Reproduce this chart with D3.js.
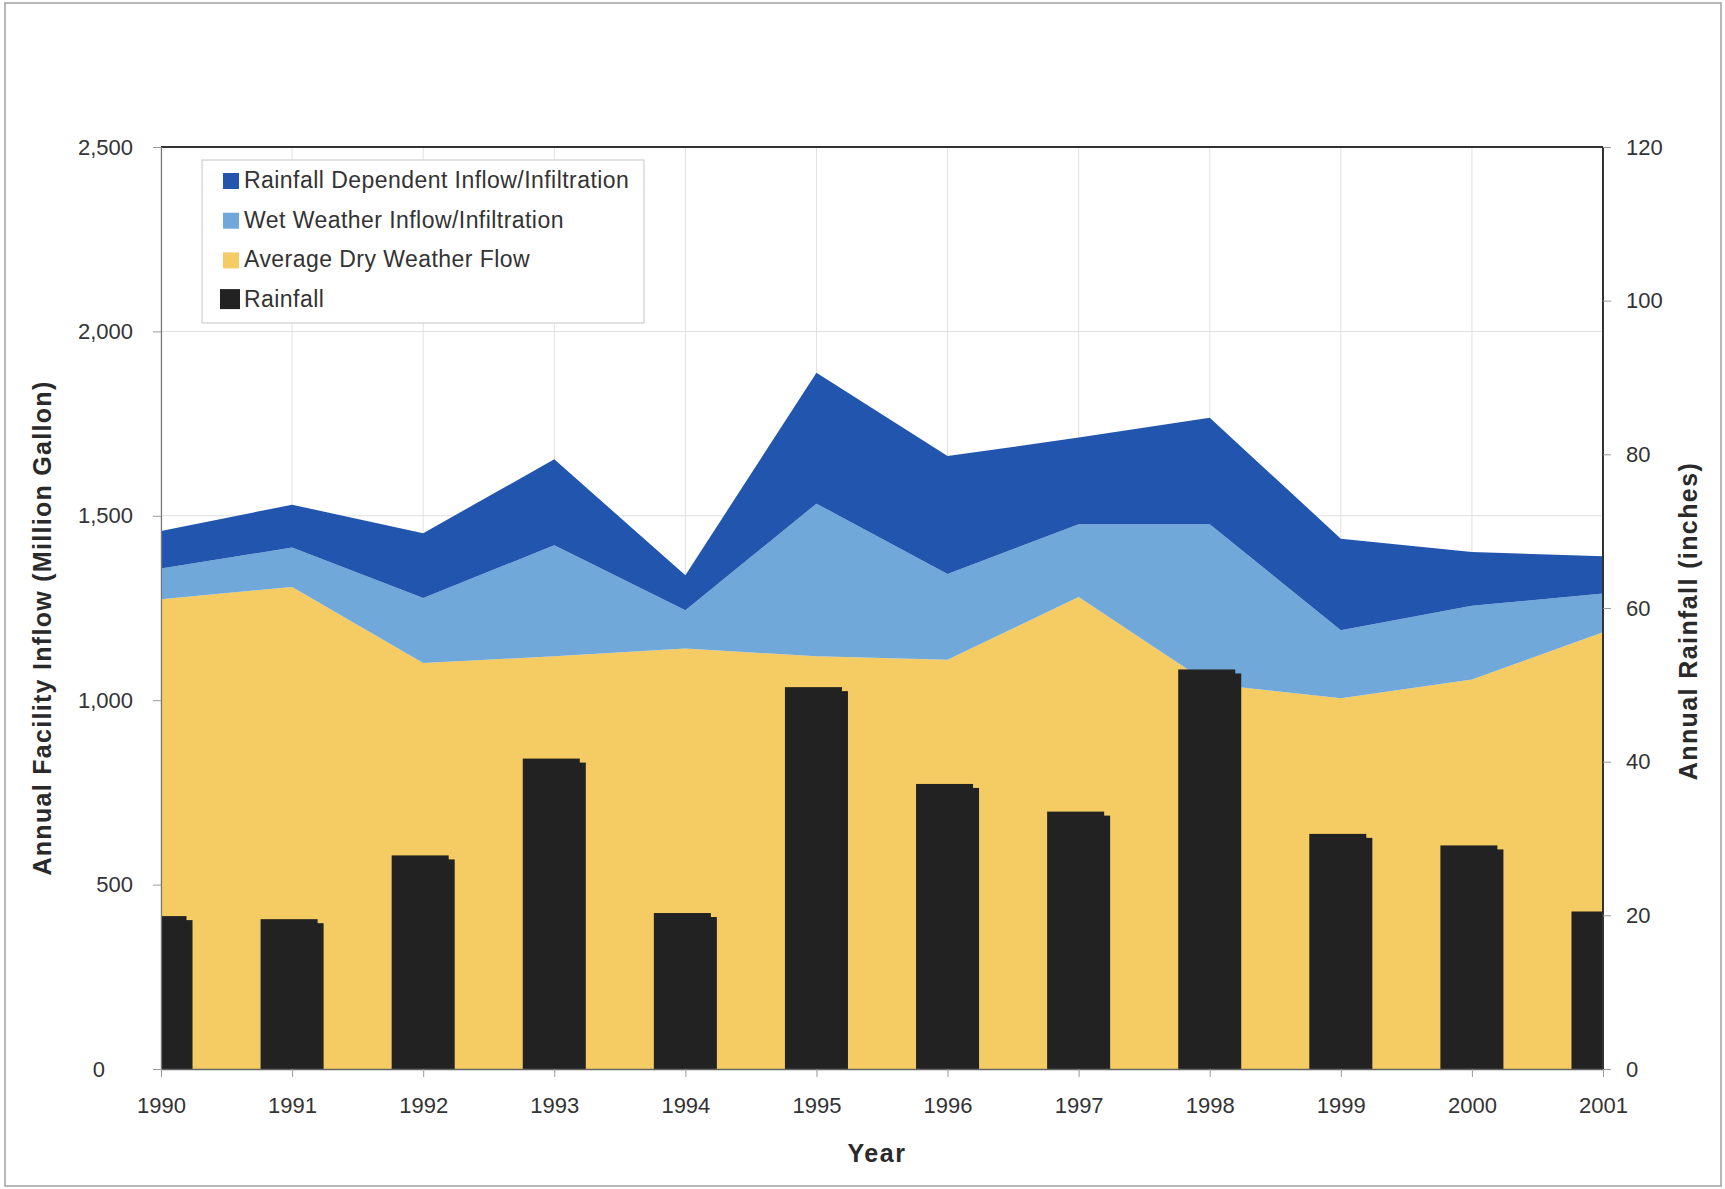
<!DOCTYPE html>
<html>
<head>
<meta charset="utf-8">
<script src="https://cdn.jsdelivr.net/npm/d3@7/dist/d3.min.js"></script>
<style>
  html, body { margin: 0; padding: 0; background: #ffffff; }
  svg { display: block; font-family: "Liberation Sans", Arial, sans-serif; }
</style>
</head>
<body>
<svg id="chart" width="1725" height="1189"></svg>
<script>
// Annual facility inflow components (million gallons) and annual rainfall (inches)
const years = [1990, 1991, 1992, 1993, 1994, 1995, 1996, 1997, 1998, 1999, 2000, 2001];
const dryWeatherFlow = [1274, 1307, 1101, 1119, 1140, 1119, 1110, 1280, 1044, 1005, 1056, 1184];
const wetWeatherII = [83, 107, 176, 301, 104, 414, 232, 197, 433, 185, 200, 105];
const rainfallDependentII = [102, 116, 176, 233, 95, 355, 320, 235, 289, 248, 146, 101];
const rainfall = [19.9, 19.5, 27.8, 40.4, 20.3, 49.7, 37.1, 33.5, 52.0, 30.6, 29.1, 20.5];

const flowTicks = [0, 500, 1000, 1500, 2000, 2500];
const rainTicks = [0, 20, 40, 60, 80, 100, 120];

const seriesNames = [
  "Rainfall Dependent Inflow/Infiltration",
  "Wet Weather Inflow/Infiltration",
  "Average Dry Weather Flow",
  "Rainfall"
];
const colors = {
  dry: "#F5CC63",
  wet: "#71A8DA",
  rdii: "#2256AE",
  rain: "#222222"
};

const svg = d3.select("#chart");
const plot = { left: 161, right: 1603, top: 147, bottom: 1069 };
const fontFamily = "Liberation Sans, Arial, sans-serif";

// outer frame
svg.append("rect")
  .attr("x", 5).attr("y", 3).attr("width", 1716).attr("height", 1183)
  .attr("fill", "#ffffff").attr("stroke", "#a0a0a0").attr("stroke-width", 1.5);

const x = d3.scaleLinear().domain([1990, 2001]).range([plot.left, plot.right]);
const y = d3.scaleLinear().domain([0, 2500]).range([plot.bottom, plot.top]);
const y2 = d3.scaleLinear().domain([0, 120]).range([plot.bottom, plot.top]);

svg.append("defs").append("clipPath").attr("id", "plotClip")
  .append("rect")
  .attr("x", plot.left).attr("y", plot.top)
  .attr("width", plot.right - plot.left).attr("height", plot.bottom - plot.top);

// gridlines
const grid = svg.append("g").attr("stroke", "#e0e0e0").attr("stroke-width", 1);
grid.selectAll("line.v").data(years).join("line")
  .attr("class", "v")
  .attr("x1", d => x(d)).attr("x2", d => x(d))
  .attr("y1", plot.top).attr("y2", plot.bottom);
grid.selectAll("line.h").data(flowTicks.slice(1, -1)).join("line")
  .attr("class", "h")
  .attr("x1", plot.left).attr("x2", plot.right)
  .attr("y1", d => y(d)).attr("y2", d => y(d));

// stacked areas
const table = years.map((yr, i) => ({
  year: yr,
  dry: dryWeatherFlow[i],
  wet: wetWeatherII[i],
  rdii: rainfallDependentII[i]
}));
const layers = d3.stack().keys(["dry", "wet", "rdii"])(table);
const area = d3.area()
  .x(d => x(d.data.year))
  .y0(d => y(d[0]))
  .y1(d => y(d[1]));

svg.append("g").attr("clip-path", "url(#plotClip)")
  .selectAll("path").data(layers).join("path")
  .attr("d", area)
  .attr("fill", d => colors[d.key]);

// rainfall bars with a small offset shadow
const step = x(1991) - x(1990);
const barW = step * 0.435;
const barShift = -3;
const shadowDx = 6, shadowDy = 4;
const bars = svg.append("g").attr("clip-path", "url(#plotClip)").attr("fill", colors.rain);
bars.selectAll("rect.shadow").data(years).join("rect")
  .attr("class", "shadow")
  .attr("x", d => x(d) - barW / 2 + barShift + shadowDx)
  .attr("y", (d, i) => y2(rainfall[i]) + shadowDy)
  .attr("width", barW)
  .attr("height", (d, i) => plot.bottom - y2(rainfall[i]) - shadowDy);
bars.selectAll("rect.bar").data(years).join("rect")
  .attr("class", "bar")
  .attr("x", d => x(d) - barW / 2 + barShift)
  .attr("y", (d, i) => y2(rainfall[i]))
  .attr("width", barW)
  .attr("height", (d, i) => plot.bottom - y2(rainfall[i]));

// plot frame: top and right dark
svg.append("line")
  .attr("x1", plot.left).attr("x2", plot.right)
  .attr("y1", plot.top).attr("y2", plot.top)
  .attr("stroke", "#333").attr("stroke-width", 2);
svg.append("line")
  .attr("x1", plot.right).attr("x2", plot.right)
  .attr("y1", plot.top).attr("y2", plot.bottom)
  .attr("stroke", "#333").attr("stroke-width", 2);

const tickFont = 22;

// left axis
const yAxis = d3.axisLeft(y).tickValues(flowTicks).tickSize(8).tickPadding(20)
  .tickFormat(d3.format(","));
const gy = svg.append("g").attr("transform", `translate(${plot.left},0)`).call(yAxis);
gy.select(".domain").attr("stroke", "#777").attr("stroke-width", 1.2);
gy.selectAll(".tick line").attr("stroke", "#999");
gy.selectAll(".tick text").attr("font-size", tickFont).attr("fill", "#333")
  .attr("font-family", fontFamily);
gy.selectAll(".tick").filter(d => d === 0).select("text").attr("dx", -28);

// right axis
const y2Axis = d3.axisRight(y2).tickValues(rainTicks).tickSize(8).tickPadding(15);
const gy2 = svg.append("g").attr("transform", `translate(${plot.right},0)`).call(y2Axis);
gy2.select(".domain").remove();
gy2.selectAll(".tick line").attr("stroke", "#999");
gy2.selectAll(".tick text").attr("font-size", tickFont).attr("fill", "#333")
  .attr("font-family", fontFamily);

// bottom axis
const xAxis = d3.axisBottom(x).tickValues(years).tickFormat(d3.format("d"))
  .tickSize(8).tickSizeOuter(0).tickPadding(20);
const gx = svg.append("g").attr("transform", `translate(0,${plot.bottom})`).call(xAxis);
gx.select(".domain").attr("stroke", "#666").attr("stroke-width", 1.5);
gx.selectAll(".tick line").attr("stroke", "#999");
gx.selectAll(".tick text").attr("font-size", tickFont).attr("fill", "#333")
  .attr("font-family", fontFamily);

// axis titles
svg.append("text")
  .attr("transform", "translate(42,628) rotate(-90)")
  .attr("text-anchor", "middle").attr("dominant-baseline", "central")
  .attr("font-size", 25).attr("font-weight", "bold").attr("fill", "#2a2a2a")
  .attr("letter-spacing", 1.3)
  .text("Annual Facility Inflow (Million Gallon)");
svg.append("text")
  .attr("transform", "translate(1688,621) rotate(-90)")
  .attr("text-anchor", "middle").attr("dominant-baseline", "central")
  .attr("font-size", 25).attr("font-weight", "bold").attr("fill", "#2a2a2a")
  .attr("letter-spacing", 1.4)
  .text("Annual Rainfall (inches)");
svg.append("text")
  .attr("x", 877).attr("y", 1153)
  .attr("text-anchor", "middle").attr("dominant-baseline", "central")
  .attr("font-size", 25).attr("font-weight", "bold").attr("fill", "#2a2a2a")
  .attr("letter-spacing", 1.5)
  .text("Year");

// legend
const legend = svg.append("g");
legend.append("rect")
  .attr("x", 202).attr("y", 160).attr("width", 442).attr("height", 163)
  .attr("fill", "#ffffff").attr("stroke", "#cfcfcf").attr("stroke-width", 1.2);
const legendColors = [colors.rdii, colors.wet, colors.dry, colors.rain];
const legendRows = legend.selectAll("g.row").data(seriesNames).join("g")
  .attr("class", "row")
  .attr("transform", (d, i) => `translate(0,${180 + i * 39.7})`);
legendRows.append("rect")
  .attr("x", (d, i) => i === 3 ? 220 : 223)
  .attr("y", (d, i) => i === 3 ? -10 : -7)
  .attr("width", (d, i) => i === 3 ? 20 : 16)
  .attr("height", (d, i) => i === 3 ? 20 : 16)
  .attr("fill", (d, i) => legendColors[i]);
legendRows.append("text")
  .attr("x", 244).attr("y", 0)
  .attr("dominant-baseline", "central")
  .attr("font-size", 23).attr("fill", "#333")
  .attr("letter-spacing", 0.45)
  .text(d => d);
</script>
</body>
</html>
